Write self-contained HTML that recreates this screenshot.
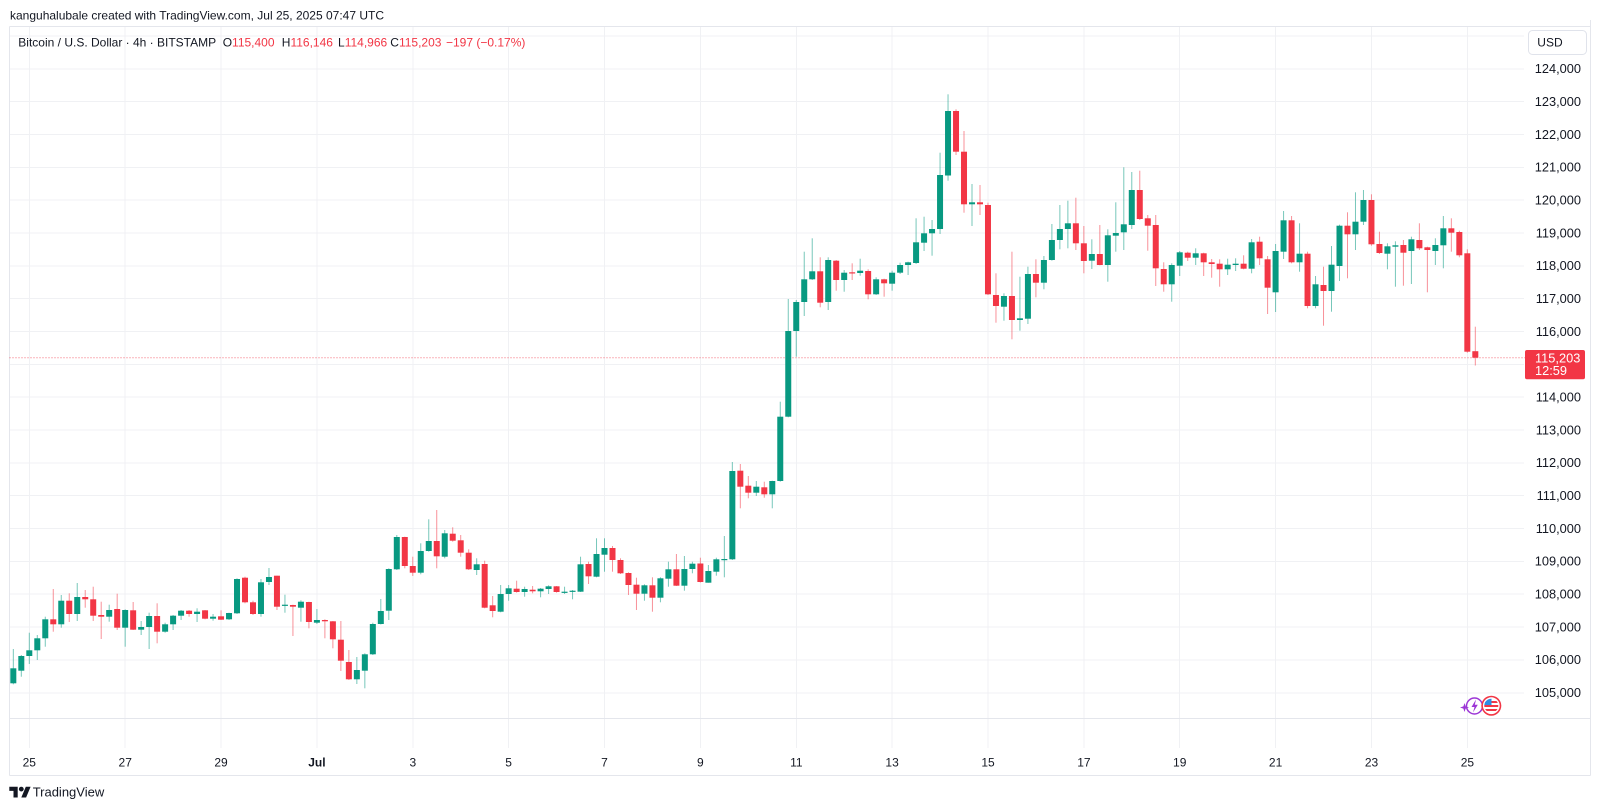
<!DOCTYPE html>
<html><head><meta charset="utf-8">
<style>
html,body{margin:0;padding:0;background:#fff;width:1600px;height:809px;overflow:hidden}
svg{display:block}
text{font-family:"Liberation Sans",Arial,sans-serif}
</style></head><body>
<svg id="c" width="1600" height="809" viewBox="0 0 1600 809" xmlns="http://www.w3.org/2000/svg">
<rect width="1600" height="809" fill="#fff"/>
<g id="grid" stroke="#f0f1f4" stroke-width="1" shape-rendering="crispEdges"></g>
<g stroke="#e4e6ec" stroke-width="1" shape-rendering="crispEdges" fill="none">
<line x1="9.5" y1="26.5" x2="1590.5" y2="26.5"/>
<line x1="9.5" y1="26.5" x2="9.5" y2="775.5"/>
<line x1="1590.5" y1="20" x2="1590.5" y2="775.5"/>
<line x1="9.5" y1="775.5" x2="1590.5" y2="775.5"/>
<line x1="9.5" y1="718.5" x2="1590.5" y2="718.5"/>
</g>
<line x1="9.5" y1="357.7" x2="1525" y2="357.7" stroke="#F23645" stroke-opacity="0.75" stroke-width="1" stroke-dasharray="1 2"/>
<g id="candles"></g>

<!-- header -->
<text x="10" y="19.3" font-size="12" fill="#131722">kanguhalubale created with TradingView.com, Jul 25, 2025 07:47 UTC</text>
<text y="46.3" font-size="12" fill="#131722"><tspan x="18.3">Bitcoin / U.S. Dollar · 4h · BITSTAMP</tspan><tspan x="222.7">O</tspan><tspan fill="#F23645">115,400</tspan><tspan x="281.8">H</tspan><tspan fill="#F23645">116,146</tspan><tspan x="338">L</tspan><tspan fill="#F23645">114,966</tspan><tspan x="390.3">C</tspan><tspan fill="#F23645">115,203</tspan><tspan x="446" fill="#F23645">−197 (−0.17%)</tspan></text>

<!-- USD box -->
<rect x="1528.5" y="30.5" width="58" height="24" rx="4" fill="#fff" stroke="#e0e3eb"/>
<text x="1537.3" y="46.6" font-size="12" fill="#131722">USD</text>

<!-- price axis labels -->
<g font-size="12.8" fill="#131722" text-anchor="end">
<text x="1581" y="73.1">124,000</text>
<text x="1581" y="105.9">123,000</text>
<text x="1581" y="138.8">122,000</text>
<text x="1581" y="171.6">121,000</text>
<text x="1581" y="204.5">120,000</text>
<text x="1581" y="237.3">119,000</text>
<text x="1581" y="270.1">118,000</text>
<text x="1581" y="303.0">117,000</text>
<text x="1581" y="335.8">116,000</text>
<text x="1581" y="401.5">114,000</text>
<text x="1581" y="434.3">113,000</text>
<text x="1581" y="467.2">112,000</text>
<text x="1581" y="500.0">111,000</text>
<text x="1581" y="532.9">110,000</text>
<text x="1581" y="565.7">109,000</text>
<text x="1581" y="598.5">108,000</text>
<text x="1581" y="631.4">107,000</text>
<text x="1581" y="664.2">106,000</text>
<text x="1581" y="697.1">105,000</text>
</g>

<!-- current price label -->
<rect x="1525" y="350" width="60" height="29.3" rx="2" fill="#F23645"/>
<text x="1535" y="362.6" font-size="12.8" fill="#fff">115,203</text>
<text x="1535" y="375" font-size="12.8" fill="#fff">12:59</text>

<!-- time axis labels -->
<g font-size="12" fill="#131722" text-anchor="middle">
<text x="29.3" y="766.4">25</text>
<text x="125.2" y="766.4">27</text>
<text x="221.0" y="766.4">29</text>
<text x="316.9" y="766.4" font-weight="bold">Jul</text>
<text x="412.8" y="766.4">3</text>
<text x="508.6" y="766.4">5</text>
<text x="604.5" y="766.4">7</text>
<text x="700.4" y="766.4">9</text>
<text x="796.3" y="766.4">11</text>
<text x="892.1" y="766.4">13</text>
<text x="988.0" y="766.4">15</text>
<text x="1083.9" y="766.4">17</text>
<text x="1179.7" y="766.4">19</text>
<text x="1275.6" y="766.4">21</text>
<text x="1371.5" y="766.4">23</text>
<text x="1467.4" y="766.4">25</text>
</g>

<!-- event icons -->
<g>
<circle cx="1474.5" cy="706" r="8" fill="#fff" stroke="#9c36d6" stroke-width="1.5"/>
<polygon points="1476,699.5 1471.5,707 1474.5,707 1473,712.5 1477.8,704.8 1474.8,704.8" fill="#9c36d6"/>
<polygon points="1464.5,703 1465.6,706.4 1469,707.5 1465.6,708.6 1464.5,712 1463.4,708.6 1460,707.5 1463.4,706.4" fill="#9c36d6"/>
<circle cx="1491.3" cy="705.7" r="10" fill="#F23645"/>
<circle cx="1491.3" cy="705.7" r="8.4" fill="#fff"/>
<clipPath id="fc"><circle cx="1491.3" cy="705.7" r="7"/></clipPath>
<g clip-path="url(#fc)">
<rect x="1484" y="698.5" width="15" height="15" fill="#fff"/>
<rect x="1484" y="701" width="15" height="2" fill="#F23645"/>
<rect x="1484" y="705" width="15" height="2" fill="#F23645"/>
<rect x="1484" y="709" width="15" height="2" fill="#F23645"/>
<rect x="1484" y="698.5" width="7.5" height="6.5" fill="#2f8de4"/>
</g>
</g>

<!-- TradingView footer -->
<g transform="translate(9.3,784.3) scale(0.6)" fill="#131722">
<path d="M14 22H7V11H0V4h14v18zM28 22h-8l7.5-18h8L28 22z"/>
<circle cx="20" cy="8" r="4"/>
</g>
<text x="32.7" y="796.3" font-size="13" fill="#131722">TradingView</text>
</svg>
<script>
(function(){
var NS="http://www.w3.org/2000/svg";
var grid=document.getElementById("grid");
function ln(p,x1,y1,x2,y2){var l=document.createElementNS(NS,"line");l.setAttribute("x1",x1);l.setAttribute("y1",y1);l.setAttribute("x2",x2);l.setAttribute("y2",y2);p.appendChild(l);return l;}
for(var k=0;k<=20;k++){var y=35.96+k*32.84;ln(grid,9.5,y,1524,y);}
for(var k=0;k<=15;k++){var x=29.3+k*95.87;ln(grid,x,27,x,748);}
var D=[
[683.3,668.3,649,684.3],[670.7,656,655,676.7],[656,650.3,632.7,664],[650.3,638.3,635,660],[638.3,619.3,616.7,646.7],
[619.3,624.3,589,631.7],[624.3,600.7,595,627.7],[600.7,614,593.3,622],[614,597,583,621],[597,599.3,590,607.7],
[599.3,615.7,586.7,621],[615,616.7,601.7,639],[616.7,610,604.7,621.7],[609,627.7,593.7,630],[627.7,610,609.3,646.7],
[610.3,629.7,602,630],[629.7,627,621,635],[627,616,612.7,649],[616,631.7,603.3,643.3],[631.7,624.3,622.7,632.7],
[624.3,615.7,615,630],[615.7,610.7,610,620],[610.7,614,610,616.7],[614,611.7,608.3,622],[610.3,618.7,610,619.3],
[618.7,616.7,614,620.7],[616.3,619.7,610.3,620],[619.3,613,612.7,620],[613.3,579,578.3,614],[577.7,602.3,576.7,603.3],
[602.3,614,600.7,615],[614,582.3,579,616.7],[582,577,568,585],[575.7,606.7,575.7,610],[605.7,604.7,594.7,612.7],
[605,606.7,604.7,636],[607.7,601.7,600.3,621.7],[602,622,601.7,628.3],[622.7,620,609,624],[620,621.3,619.3,638.3],
[621.3,639.3,621,648.3],[639.7,660.7,621,671],[662,679.3,650,680],[679.3,670,657,684],[670.7,654.3,653.3,688.3],
[654.3,624,622.7,655],[624,611,599,624.5],[610.7,569,568.3,620],[569.3,537,535,570],[537,566,536.7,568.3],
[566,572.7,556.7,576],[572.7,551,543.3,574.3],[551,541,519.3,551.7],[541,556.3,510,568.3],[556.7,533.3,530,558.3],
[533.7,540.7,527.3,541.7],[540.3,552.7,535,556.7],[552.7,569.3,549.3,570],[570,564.3,558.3,575],[564,607.7,560.7,608.3],
[605.3,611,596,617.3],[611.7,594,585,612.3],[594,588.3,585,600.7],[588.7,592,580.7,592.7],[592,589,586.7,596.7],
[589.7,591.3,586,593.3],[591.3,588.7,588,597.3],[589,586.3,585.3,594],[586.3,592,586,592.7],[592.3,591.7,586.7,594],
[591.7,590.7,590,599.3],[591.7,564.3,556.7,592],[564,576.3,561.7,584],[576.7,554,538.3,577.3],[554.7,548,538.3,571.7],
[548,560,546,571.7],[560,573.3,558.3,574],[573,585,572.3,595],[584.7,593.7,577.7,610],[593.7,585.3,584.3,600.7],
[585.3,597.7,577.3,611.7],[597.7,578.3,577.3,602.3],[578.7,569.3,561.7,586.7],[569.3,585.7,554,586],[585.7,569,556,590.7],
[569,563.7,561.7,573.3],[563.5,582,557.7,582.5],[582.7,571,565,582.7],[571.7,559.3,557.7,575.7],[559.7,559,536,577.3],
[559.3,471,462,560],[470.7,486.7,464,508.3],[485.7,492.7,476,498.3],[492.7,486.7,481,496],[487.3,494.3,481.7,497.7],
[494.3,481,480.7,508.3],[481,416.7,401.7,481.7],[416.7,331,299,417.3],[331,302,300,356.7],[302,279.3,251.7,316],
[279.3,271.3,238.3,280],[271.3,302.7,257.3,307.3],[302,260,257.3,310],[260.7,280,260,290.7],[280,272.7,270,291.7],
[272.3,273.3,263.3,280],[273,270.7,258.7,275.7],[271,294.3,269.3,299.3],[294.3,279.3,277.3,295],[279.3,283.3,278.7,296.7],
[283.7,272.7,270.7,290.7],[272.7,265,262.7,274],[265,262.3,261.7,275],[263,242.3,218.3,264],[242.7,233.3,216.7,251],
[233.3,229,220,255.7],[229,175,152.7,234],[175.5,111,94.3,180.7],[111,151.7,109.3,155],[151.7,204.3,131,212.7],
[204.3,202.3,184,226],[202.3,204.3,185,215],[205,294.3,202.7,295],[295,306,273.3,322.7],[306.7,296,293.3,320.7],
[296,320,251.7,339.3],[320,318.3,276.7,330.7],[318.7,274,266.7,324],[274,282.7,259.3,297.3],[282.7,260,256,289.3],
[260,240,224,260.7],[240,229,205,249.3],[229,223.3,200.7,248.3],[223.3,243.3,197.7,250],[243.3,261,226,273.3],
[260.7,254,239.3,269],[254,265,225,265.3],[265,235.3,229.3,281.7],[235.7,233,202.3,251.7],[232.3,224.3,167.3,250],
[225,190,172,229],[190,219,170.7,220],[218.3,225.7,215,250.7],[225,268.3,215,286],[269,284.3,262.3,291.7],
[284.3,265,263.3,301.7],[265.7,252.3,251,276],[252.7,257.7,251.7,261],[257.7,253.3,248.3,265],[253.3,262.3,252.7,276],
[262.3,264,259,277.7],[263.7,269.3,259.3,286.7],[269.3,264.7,258.7,275],[265,263.7,258.3,271],[263.7,268.7,255.3,269.3],
[268.7,242.3,239,273.3],[241.7,258.3,236.7,265],[259.3,287.7,256,314],[292.3,251,244,312],[251.7,220.3,211,259],
[220.3,262.3,216,263.3],[262.3,253.7,223.3,271.7],[253.7,306,251.7,308.3],[306,284.3,276,308.3],[285,291,266.7,325.7],
[291,264.7,246,311.7],[266,225.7,224.7,281],[225.7,234.3,212.3,278.3],[234.3,221.7,192.3,250],[221.7,200,190,225],
[200,244.3,194.3,245.7],[244,253,231.7,254],[253.7,246.3,243.3,269.3],[246.7,245.3,241.3,286.7],[245,252.7,240,285.7],
[251,239.3,236.7,284],[240,248.3,223.3,250],[247.3,250,246.7,292.3],[251,245,238.3,265],[245.3,228.3,216,268.3],
[228.3,232.7,218.3,251.7],[232,255.3,230.7,257.3],[253.3,351.7,249.3,352.7],[351.2,357.7,326.7,365.5]
];
var g=document.getElementById("candles");
for(var k=0;k<D.length;k++){
  var i=k-2, x=29.3+7.989*i, o=D[k][0], c=D[k][1], h=D[k][2], l=D[k][3];
  var col = (c<o)? "#089981" : "#F23645";
  var w=ln(g,x,h,x,l); w.setAttribute("stroke",col); w.setAttribute("stroke-width","1"); w.setAttribute("stroke-opacity","0.55");
  var top=Math.min(o,c), bh=Math.max(Math.abs(o-c),1.2);
  var r=document.createElementNS(NS,"rect");
  r.setAttribute("x",x-3);r.setAttribute("y",top);r.setAttribute("width",6);r.setAttribute("height",bh);r.setAttribute("fill",col);
  g.appendChild(r);
}
})();
</script>
</body></html>
